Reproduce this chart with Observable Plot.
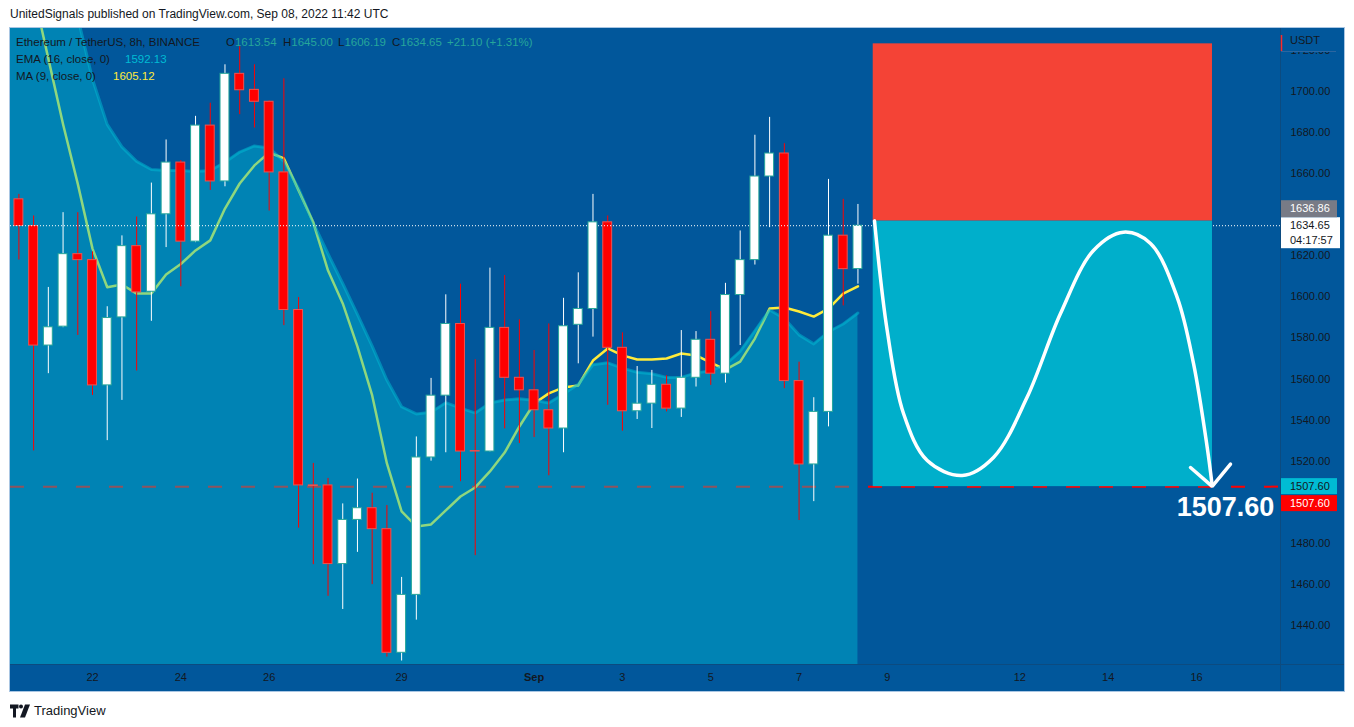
<!DOCTYPE html>
<html><head><meta charset="utf-8">
<script src="https://cdn.jsdelivr.net/npm/d3@7"></script>
<script src="https://cdn.jsdelivr.net/npm/@observablehq/plot@0.6"></script>
<style>
html,body{margin:0;padding:0;background:#fff;width:1354px;height:727px;overflow:hidden;font-family:"Liberation Sans",Arial,sans-serif;}
#header{position:absolute;left:10px;top:7px;font-size:12px;color:#131722;white-space:nowrap;}
#frame{position:absolute;left:9px;top:27px;width:1336px;height:665px;box-sizing:border-box;border:1px solid #a9c6e3;background:#01579b;}
#chart{position:absolute;left:0;top:0;}
.lg{position:absolute;font-size:11.5px;color:#131722;white-space:nowrap;line-height:17px;}
.v{color:#26a69a}
#footer{position:absolute;left:10px;top:703px;display:flex;align-items:center;gap:4px;}
</style></head>
<body>
<div id="header"></div>
<div id="frame">
  <div id="chart"></div>
  <div class="lg" id="lg1" style="left:6px;top:5.5px"></div>
  <div class="lg" id="lg2" style="left:6px;top:22.5px"></div>
  <div class="lg" id="lg3" style="left:6px;top:39.5px"></div>
</div>
<div id="footer"><svg width="20" height="14" viewBox="0 0 20 14"><path d="M0 0.5h8.5v4H6v9H3v-9H0z" fill="#131722"/><circle cx="11" cy="2.5" r="2" fill="#131722"/><path d="M15 0.5h5L15 13.5h-5z" fill="#131722"/></svg><span style="font-size:13px;color:#131722">TradingView</span></div>
<script>
// ---------- data ----------
const headerText = "UnitedSignals published on TradingView.com, Sep 08, 2022 11:42 UTC";
const symbolText = "Ethereum / TetherUS, 8h, BINANCE";
const ohlcLetters = ["O", "H", "L", "C"];
const ohlcValues = ["1613.54", "1645.00", "1606.19", "1634.65"];
const changeText = "+21.10 (+1.31%)";
const emaLabel = "EMA (16, close, 0)", emaValue = "1592.13";
const maLabel = "MA (9, close, 0)", maValue = "1605.12";
const unitLabel = "USDT";
const countdown = "04:17:57";

const candleTimes = [
 "08-20 08","08-20 16","08-21 00","08-21 08","08-21 16","08-22 00","08-22 08","08-22 16","08-23 00","08-23 08",
 "08-23 16","08-24 00","08-24 08","08-24 16","08-25 00","08-25 08","08-25 16","08-26 00","08-26 08","08-26 16",
 "08-27 00","08-27 08","08-27 16","08-28 00","08-28 08","08-28 16","08-29 00","08-29 08","08-29 16","08-30 00",
 "08-30 08","08-30 16","08-31 00","08-31 08","08-31 16","09-01 00","09-01 08","09-01 16","09-02 00","09-02 08",
 "09-02 16","09-03 00","09-03 08","09-03 16","09-04 00","09-04 08","09-04 16","09-05 00","09-05 08","09-05 16",
 "09-06 00","09-06 08","09-06 16","09-07 00","09-07 08","09-07 16","09-08 00","09-08 08"];
const opens = [1647.5,1634.5,1576.3,1585.5,1620.8,1617.9,1556.9,1590.0,1624.7,1602.5,
 1640.2,1665.4,1626.9,1683.4,1656.2,1708.6,1700.8,1695.0,1660.6,1593.6,
 1508.2,1508.2,1469.9,1491.4,1497.1,1486.9,1426.7,1454.9,1521.8,1551.9,
 1586.8,1524.9,1524.7,1584.9,1560.6,1554.5,1544.8,1535.9,1586.4,1594.1,
 1636.3,1575.2,1544.3,1548.0,1557.2,1545.6,1560.6,1579.1,1562.6,1600.9,
 1617.9,1658.6,1669.8,1559.0,1518.4,1544.0,1629.8,1613.54];
const highs = [1649.9,1639.4,1604.6,1641.0,1641.0,1621.9,1595.2,1629.7,1638.9,1655.4,
 1676.4,1666.4,1687.9,1694.3,1713.0,1721.8,1713.0,1695.5,1706.2,1599.7,
 1518.9,1511.6,1499.2,1511.3,1504.4,1498.4,1463.4,1531.8,1560.3,1601.0,
 1606.2,1569.4,1614.0,1610.4,1588.8,1573.9,1586.8,1599.3,1611.7,1649.9,
 1639.4,1582.5,1566.1,1564.2,1561.6,1583.6,1583.1,1592.8,1606.6,1632.1,
 1678.7,1687.4,1674.6,1568.2,1550.9,1657.2,1647.5,1645.0];
const lows = [1617.9,1525.0,1562.6,1585.0,1581.2,1552.0,1530.0,1549.6,1563.9,1588.1,
 1624.0,1604.9,1626.4,1651.8,1653.6,1688.7,1682.2,1641.8,1586.0,1487.4,
 1469.6,1454.2,1447.8,1475.6,1459.9,1424.6,1422.7,1442.6,1520.0,1524.1,
 1510.0,1474.0,1524.5,1535.7,1528.6,1531.5,1512.9,1524.1,1567.4,1580.4,
 1547.2,1534.6,1540.3,1535.9,1544.0,1541.3,1556.1,1556.9,1558.0,1576.3,
 1615.5,1633.7,1555.3,1491.1,1500.3,1536.7,1595.6,1606.19];
const closes = [1634.5,1576.3,1585.2,1620.8,1617.9,1556.9,1589.7,1624.7,1602.2,1640.2,
 1665.4,1626.9,1683.4,1656.2,1708.6,1700.6,1695.0,1660.6,1593.6,1508.2,
 1507.9,1469.9,1491.4,1497.1,1486.9,1426.7,1454.9,1521.8,1551.9,1586.8,
 1524.7,1524.7,1584.9,1560.6,1554.5,1544.8,1535.9,1585.7,1594.1,1636.3,
 1575.2,1544.3,1548.0,1557.2,1545.6,1560.6,1579.1,1562.6,1600.9,1617.9,
 1658.6,1669.8,1559.0,1518.4,1544.0,1629.8,1613.5,1634.65];

// indicator series (first point is one bar before the first visible candle)
const lineTimes = ["08-20 00"].concat(candleTimes);
const ema16 = [1835,1815,1790,1768,1750,1736,
 1706,1684,1673,1666,1662,1661.5,1661.5,1661,1661.5,1665.5,
 1670.5,1673.5,1672.5,1666,1652.8,1636,1621,1606.5,1591.5,1576,
 1559.5,1546.5,1543,1543.8,1548.5,1545.8,1543.5,1548.3,1549.8,1550.4,
 1549.7,1548.3,1552.7,1557.4,1567,1567.9,1565.3,1563.3,1562.6,1560.8,
 1560.8,1563,1564,1567,1573.5,1583.5,1593.6,1589.5,1581.5,1577.1,
 1583,1586.8,1592.13];
const ma9 = [1815,1782,1748,1716,1684,1655,
 1623.5,1604.7,1606,1601.6,1601.6,1610.9,1616,1622.6,1627.5,1643,
 1655.2,1664,1670.3,1667.4,1651.8,1636.2,1612.8,1596.8,1575.8,1552,
 1518.9,1495.5,1488.2,1489.2,1496,1502.8,1507.2,1515,1524.2,1536.9,
 1548.1,1553,1555.9,1556.9,1569,1574.9,1571.5,1569.5,1569.5,1570,
 1572.4,1571.5,1568,1564.6,1568.5,1579.7,1594.3,1594.8,1592.9,1590.4,
 1594.3,1601.6,1605.12];

// price-scale labels that are visible (1500 and 1640 sit under the price tags)
const yTicks = [1440,1460,1480,1520,1540,1560,1580,1600,1620,1660,1680,1700,1720];
const xTickDays = ["08-22","08-24","08-26","08-29","09-01","09-03","09-05","09-07","09-09","09-12","09-14","09-16"];
const xTickLabels = ["22","24","26","29","Sep","3","5","7","9","12","14","16"];
const boldTickLabel = "Sep";

const xDomain = ["08-20 03:26", "09-17 21:39"];
const yDomain = [1421.0, 1730.67];

// short-position projection
const zoneTimes = ["09-08 16:18", "09-16 08:41"];
const riskTop = 1723.2, stopPrice = 1636.86, targetPrice = 1507.6;
const curveTimes = ["09-08 17:00","09-08 23:54","09-09 08:46","09-09 21:39","09-10 16:39","09-11 09:40","09-12 03:59",
 "09-12 22:05","09-13 16:00","09-14 08:20","09-14 23:00","09-15 13:30","09-15 22:22","09-16 05:48","09-16 08:31"];
const curvePrices = [1637.0,1583.6,1543.2,1520.3,1513.0,1521.8,1551.2,1591.9,1622.6,1631.5,1626.0,1599.8,1567.6,1526.8,1508.2];
const arrowTimes = ["09-15 20:44","09-16 08:31","09-16 18:29"];
const arrowPrices = [1516.9,1507.7,1518.6];
const bigLabelTime = "09-16 15:46", bigLabelPrice = 1497.45;

// ---------- helpers ----------
const T = s => { const [md, hm] = s.split(" "); const [h, m = "00"] = (hm || "00").split(":"); return new Date(`2022-${md}T${h.padStart(2,"0")}:${m}:00Z`); };
const H4 = 4 * 3600e3;
const bg = "#01579b";

const candles = candleTimes.map((s, i) => ({time: T(s), open: opens[i], high: highs[i], low: lows[i], close: closes[i]}));
const lines = lineTimes.map((s, i) => ({time: T(s), ema: ema16[i], ma: ma9[i]}));
const curve = curveTimes.map((s, i) => ({time: T(s), price: curvePrices[i]}));
const arrow = arrowTimes.map((s, i) => ({time: T(s), price: arrowPrices[i]}));
const zones = [
  {x1: T(zoneTimes[0]), x2: T(zoneTimes[1]), y1: stopPrice, y2: riskTop, fill: "#f44336"},
  {x1: T(zoneTimes[0]), x2: T(zoneTimes[1]), y1: targetPrice, y2: stopPrice, fill: "#00afcb"}
];
const lastClose = closes[closes.length - 1];
const up = d => d.close >= d.open;

// legend
document.getElementById("header").textContent = headerText;
const lg1 = document.getElementById("lg1");
lg1.innerHTML = `<span>${symbolText}</span>`;
const ohlcX = [210, 267, 322, 376];
ohlcLetters.forEach((L, i) => {
  const s = document.createElement("span");
  s.className = "lg"; s.style.left = ohlcX[i] + "px"; s.style.top = "0px";
  s.innerHTML = `${L}<span class="v">${ohlcValues[i]}</span>`;
  lg1.appendChild(s);
});
{ const s = document.createElement("span"); s.className = "lg v"; s.style.left = "431px"; s.style.top = "0px"; s.textContent = changeText; lg1.appendChild(s); }
document.getElementById("lg2").innerHTML = `<span>${emaLabel}</span><span style="position:absolute;left:109px;color:#00bcd4">${emaValue}</span>`;
document.getElementById("lg3").innerHTML = `<span>${maLabel}</span><span style="position:absolute;left:97px;color:#ffeb3b">${maValue}</span>`;

// right-axis tags, unit header and separators
const overlay = (index, scales, values, dims) => {
  const {width, height, marginRight, marginBottom} = dims;
  const xa = width - marginRight;
  const g = d3.create("svg:g").attr("font-size", 11).attr("text-anchor", "start").attr("font-family", "Liberation Sans, Arial, sans-serif");
  g.append("line").attr("x1", xa + 0.5).attr("x2", xa + 0.5).attr("y1", 0).attr("y2", height).attr("stroke", "#0c4b80");
  g.append("line").attr("x1", 0).attr("x2", width).attr("y1", height - marginBottom + 0.5).attr("y2", height - marginBottom + 0.5).attr("stroke", "#0c4b80");
  g.append("rect").attr("x", xa + 1).attr("y", 0).attr("width", marginRight - 1).attr("height", 23).attr("fill", bg);
  g.append("line").attr("x1", xa + 1).attr("x2", xa + 56).attr("y1", 23.5).attr("y2", 23.5).attr("stroke", "#2c66a0");
  g.append("line").attr("x1", xa + 1.5).attr("x2", xa + 1.5).attr("y1", 7).attr("y2", 23).attr("stroke", "#ff2a2a").attr("stroke-width", 1.5);
  g.append("text").attr("x", xa + 10).attr("y", 12).attr("dy", "0.35em").attr("fill", "#131722").text(unitLabel);
  const tag = (top, h, w, fill, color, texts) => {
    g.append("rect").attr("x", xa + 1).attr("y", top).attr("width", w).attr("height", h).attr("fill", fill);
    texts.forEach((t, i) => g.append("text").attr("x", xa + 10).attr("y", top + 8.3 + i * 15).attr("dy", "0.35em").attr("fill", color).text(t));
  };
  const yc = scales.y(lastClose);
  tag(yc - 8, 31, 59, "#ffffff", "#131722", [lastClose.toFixed(2), countdown]);
  tag(yc - 25, 17, 56, "#787b86", "#ffffff", [stopPrice.toFixed(2)]);
  const yt = scales.y(targetPrice);
  tag(yt - 8, 16, 56, "#00bcd4", "#131722", [targetPrice.toFixed(2)]);
  tag(yt + 9, 16, 56, "#ff0000", "#ffffff", [targetPrice.toFixed(2)]);
  return g.node();
};

const normalTicks = xTickDays.filter((d, i) => xTickLabels[i] !== boldTickLabel).map(d => T(d + " 00"));
const boldTicks = xTickDays.filter((d, i) => xTickLabels[i] === boldTickLabel).map(d => T(d + " 00"));
const labelOf = d => xTickLabels[xTickDays.indexOf(d3.utcFormat("%m-%d")(d))];

const chart = Plot.plot({
  width: 1334, height: 663,
  marginLeft: 0, marginRight: 64, marginTop: 0, marginBottom: 27,
  style: {background: "none", fontFamily: "Liberation Sans, Arial, sans-serif", fontSize: "11px", color: "#131722", overflow: "visible"},
  x: {type: "utc", domain: xDomain.map(T), axis: null},
  y: {domain: yDomain, axis: null},
  marks: [
    Plot.ruleY([targetPrice], {stroke: "#ff0000", strokeWidth: 2, strokeDasharray: "14,19"}),
    Plot.lineY(lines, {x: "time", y: "ma", stroke: "#ffeb3b", strokeWidth: 2.5, clip: true}),
    Plot.areaY(lines, {x: "time", y: "ema", fill: "#00bcd4", fillOpacity: 0.44, clip: true}),
    Plot.lineY(lines, {x: "time", y: "ema", stroke: "#00bcd4", strokeOpacity: 0.5, strokeWidth: 3, clip: true}),
    Plot.ruleX(candles, {x: "time", y1: "low", y2: "high", stroke: d => up(d) ? "#ffffff" : "#ff0000", strokeWidth: 1, clip: true}),
    Plot.rect(candles, {
      x1: d => new Date(+d.time - H4), x2: d => new Date(+d.time + H4), insetLeft: 2.9, insetRight: 2.9,
      y1: "open", y2: "close",
      fill: d => up(d) ? "#ffffff" : "#ff0000", stroke: d => up(d) ? "#26a69a" : "#ef5350", strokeWidth: 1, clip: true
    }),
    Plot.ruleY([lastClose], {stroke: "#ffffff", strokeWidth: 1, strokeDasharray: "1,2"}),
    Plot.rect(zones, {x1: "x1", x2: "x2", y1: "y1", y2: "y2", fill: "fill"}),
    Plot.line(curve, {x: "time", y: "price", stroke: "#ffffff", strokeWidth: 3.5, curve: "catmull-rom"}),
    Plot.line(arrow, {x: "time", y: "price", stroke: "#ffffff", strokeWidth: 3.5, strokeLinejoin: "miter"}),
    Plot.text([targetPrice], {x: () => T(bigLabelTime), y: () => bigLabelPrice, text: d => d.toFixed(2), fill: "#ffffff", fontSize: 27, fontWeight: "bold"}),
    Plot.axisY({anchor: "right", ticks: yTicks, tickSize: 0, tickPadding: 10, tickFormat: d => d.toFixed(2), label: null}),
    Plot.axisX({ticks: normalTicks, tickSize: 0, tickPadding: 9, tickFormat: labelOf, label: null}),
    Plot.axisX({ticks: boldTicks, tickSize: 0, tickPadding: 9, tickFormat: labelOf, fontWeight: "bold", label: null}),
    overlay
  ]
});
document.getElementById("chart").appendChild(chart);
</script>
</body></html>
